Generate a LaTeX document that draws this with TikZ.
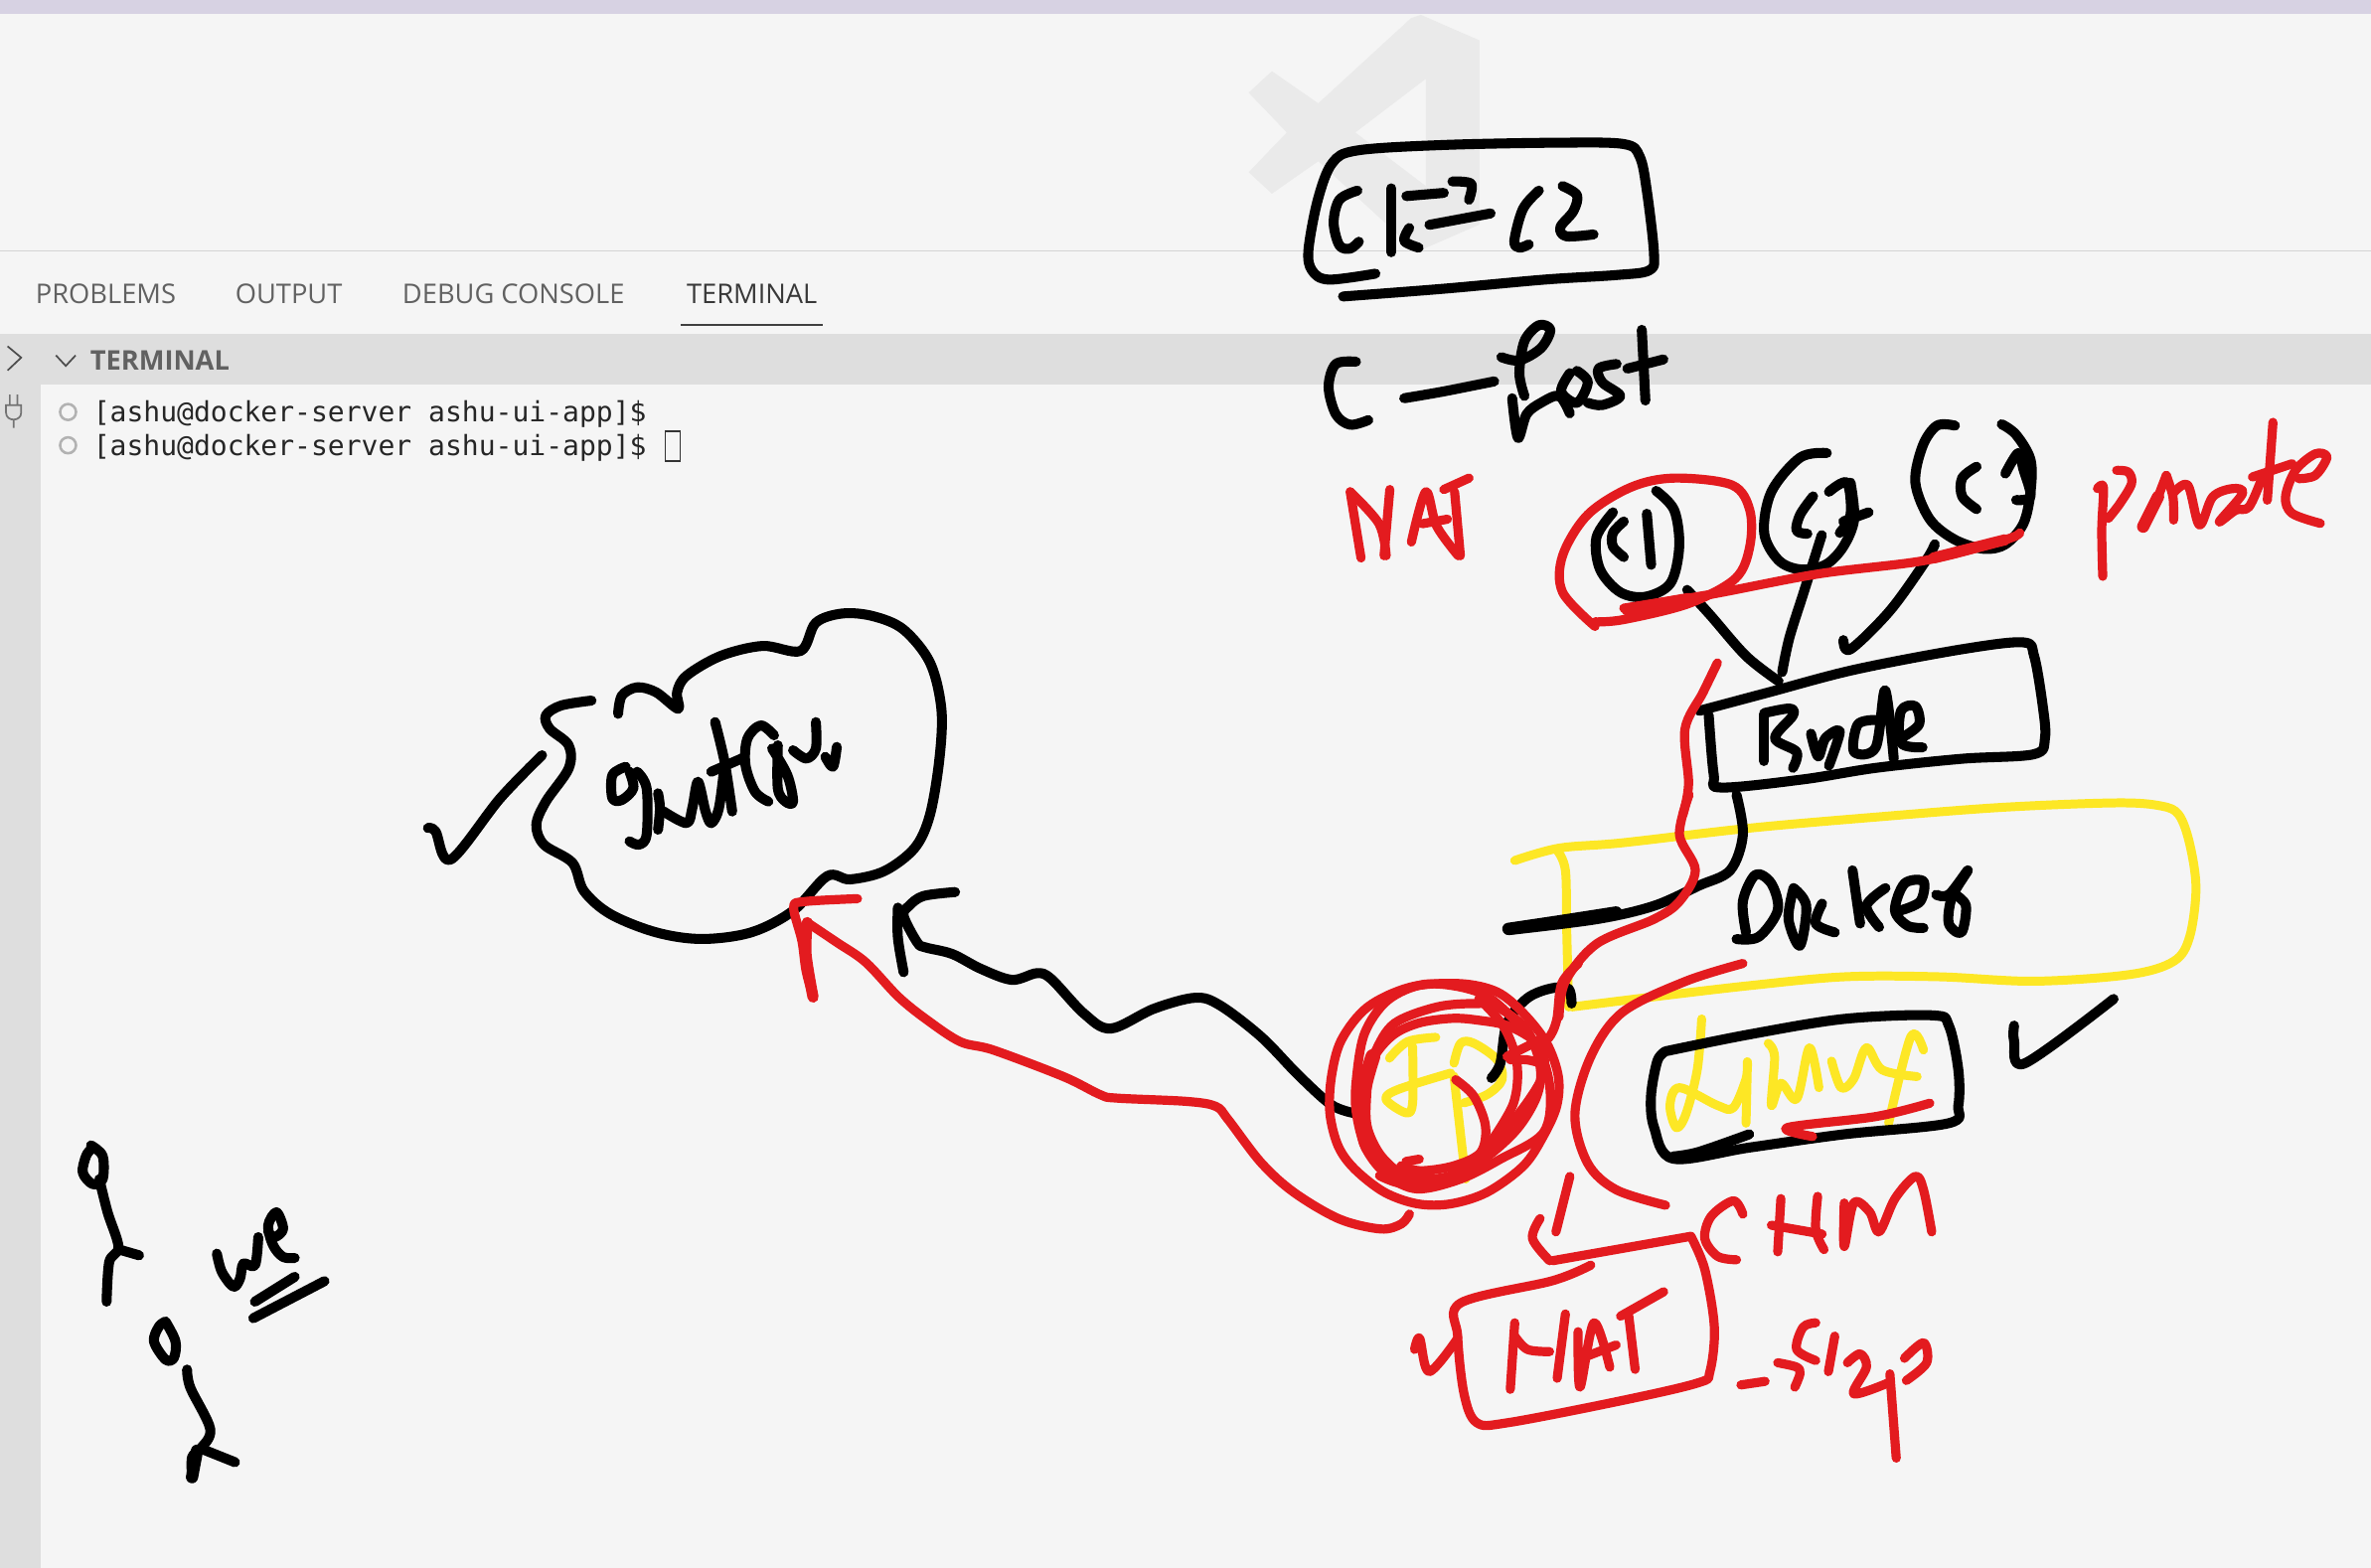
\documentclass[tikz,border=0pt]{standalone}
\usepackage{fontspec}
\setmainfont{Open Sans}
\newfontfamily\termfont{DejaVu Sans Mono}
\definecolor{fondo}{HTML}{F5F5F5}
\definecolor{banda}{HTML}{DEDEDE}
\definecolor{lilla}{HTML}{D7D2E3}
\definecolor{logo}{HTML}{EAEAEA}
\definecolor{rosso}{HTML}{E31B1F}
\definecolor{giallo}{HTML}{FDE725}
\begin{document}
\begin{tikzpicture}[x=.05cm,y=-.05cm,
 inkblack/.style={draw=black,line width=9.4pt,line cap=round,line join=round,smooth,tension=.55},
 inkred/.style={draw=rosso,line width=8.6pt,line cap=round,line join=round,smooth,tension=.55},
 inkyellow/.style={draw=giallo,line width=8.4pt,line cap=round,line join=round,smooth,tension=.55},
 tabtext/.style={anchor=west,inner sep=0pt,text=black!62,font=\fontsize{25.5}{28}\selectfont},
 termtext/.style={anchor=west,inner sep=0pt,text=black!85,font=\termfont\fontsize{26.2}{30}\selectfont},
 dotterm/.style={draw=black!30,line width=2.4pt,circle,minimum size=15pt,inner sep=0pt},
 zoomtop/.style={shift={(821.5,65.7)},xscale=.4761,yscale=.3018},
 zoomlow/.style={shift={(821.5,525.7)},xscale=.4191,yscale=.2934},
 zoomcloud/.style={shift={(262.9,381.2)},xscale=.2515,yscale=.219},
 zoomarrow/.style={shift={(512.6,565.2)},xscale=.2724,yscale=.2191},
 zoomusers/.style={shift={(39.4,742.6)},scale=.219},
 zoomlogo/.style={shift={(801.7,0)},scale=.219},
 zoomball/.style={shift={(867.4,637.4)},scale=.219},
 zoomword/.style={shift={(1373.5,262.9)},scale=.219}]

\useasboundingbox (0,0) rectangle (1568,1037);
\fill[fondo] (0,0) rectangle (1568,1037);
\fill[lilla] (0,0) rectangle (1568,9.5);

\begin{scope}[zoomlogo]
\fill[logo,even odd rule] (630,45)--(807,122)--(807,678)--(630,755)--(600,745)--(320,487)--(180,585)--(110,520)--(225,400)--(110,280)--(180,215)--(320,312)--(600,55)--cycle
 (645,238)--(432,400)--(645,562)--cycle;
\end{scope}

\draw[black!17,line width=1.6pt] (0,166)--(1568,166);
\fill[banda] (0,221) rectangle (1568,254);
\fill[banda] (0,221) rectangle (27,1037);

\node[tabtext] (tabproblems) at (23.5,194.5) {PROBLEMS};
\node[tabtext] (taboutput) at (155.5,194.5) {OUTPUT};
\node[tabtext] (tabdebug) at (266,194.5) {DEBUG CONSOLE};
\node[tabtext,text=black!78] (tabterminal) at (454,194.5) {TERMINAL};
\draw[black!75,line width=1.8pt] (450,215)--(544,215);
\node[tabtext,text=black!62,font=\bfseries\fontsize{25.5}{28}\selectfont] (headterminal) at (59.5,238.5) {TERMINAL};

\draw[black!70,line width=1.6pt] (5,229)--(14,236.5)--(5,245);
\draw[black!70,line width=1.6pt] (37,235)--(43.5,242)--(50,235);
\draw[black!55,line width=1.6pt] (4,268)--(4,273) .. controls (4,279) and (14,279) .. (14,273)--(14,268)--cycle (9,277)--(9,283) (6.5,268)--(6.5,261) (11.5,268)--(11.5,261);

\node[dotterm] (doto) at (45,272.5) {};
\node[dotterm] (dott) at (45,294.5) {};
\node[termtext] (lineo) at (61.5,274) {[ashu@docker-server ashu-ui-app]\$};
\node[termtext] (linet) at (61.5,296) {[ashu@docker-server ashu-ui-app]\$};
\node[draw=black!80,line width=1.5pt,minimum width=14pt,minimum height=28pt,inner sep=0pt] (cursore) at (445,295) {};

% yellow ink first, it stays under the rest
\begin{scope}[zoomlow]
\draw[inkyellow] plot coordinates {(430,148)(500,120)(600,108)(800,75)(1000,50)(1200,28)(1380,18)(1450,25)(1478,45)(1495,110)(1505,210)(1495,320)(1470,375)(1400,405)(1250,420)(1100,410)(950,410)(800,430)(650,455)(520,478)};
\draw[inkyellow] plot coordinates {(497,125)(510,170)(512,300)(515,478)};
\draw[inkyellow] plot coordinates {(725,505)(718,620)(700,720)(685,750)(675,700)(690,660)(750,700)(775,705)(795,640)(797,605)(795,740)};
\draw[inkyellow] plot coordinates {(830,560)(840,590)(835,700)(850,650)(875,685)(895,570)(910,660)};
\draw[inkyellow] plot coordinates {(930,600)(945,660)(965,640)(985,570)(1010,620)(1065,635)};
\draw[inkyellow] plot coordinates {(1075,575)(1055,545)(1020,740)};
\end{scope}

\begin{scope}[zoomball]
\draw[inkyellow] plot coordinates {(375,222)(290,235)(235,285)};
\draw[inkyellow] plot coordinates {(305,250)(305,420)(285,450)(225,410)(260,380)(420,330)};
\draw[inkyellow] plot coordinates {(430,300)(450,240)(490,240)(560,290)(575,350)(530,395)(460,420)};
\draw[inkyellow] plot coordinates {(430,340)(465,650)};
\draw[inkblack] plot coordinates {(543,345)(570,300)(590,180)(650,105)(720,75)(775,75)(785,120)};
\end{scope}

\begin{scope}[zoomtop]
\draw[inkblack] plot coordinates {(185,382)(120,395)(97,375)(92,330)(105,220)(125,140)(160,112)(280,100)(440,95)(530,98)(552,125)(562,200)(572,340)(565,375)(520,385)(420,395)(280,415)(140,432)};
\draw[inkblack] plot coordinates {(160,200)(135,220)(127,270)(135,320)(150,327)(162,312)};
\draw[inkblack] plot coordinates {(207,195)(207,335)};
\draw[inkblack] plot coordinates {(232,282)(225,310)(245,325)};
\draw[inkblack] plot coordinates {(228,212)(280,205)};
\draw[inkblack] plot coordinates {(292,180)(318,185)(315,220)};
\draw[inkblack] plot coordinates {(260,275)(345,250)};
\draw[inkblack] plot coordinates {(412,200)(390,240)(378,310)(385,325)(398,318)};
\draw[inkblack] plot coordinates {(445,190)(465,210)(460,245)(442,280)(450,300)(488,296)};
\draw[inkblack] plot coordinates {(158,575)(130,580)(120,630)(130,690)(150,713)(175,703)};
\draw[inkblack] plot coordinates {(225,655)(280,640)(350,618)};
\draw[inkblack] plot coordinates {(360,565)(385,572)(415,545)(428,505)(412,495)(392,530)(385,600)(392,650)};
\draw[inkblack] plot coordinates {(375,655)(383,742)(395,690)(415,665)(440,650)(455,688)};
\draw[inkblack] plot coordinates {(455,600)(443,640)(465,665)(480,620)(465,595)};
\draw[inkblack] plot coordinates {(520,580)(495,590)(500,620)(525,650)(500,670)(480,665)};
\draw[inkblack] plot coordinates {(555,505)(560,660)};
\draw[inkblack] plot coordinates {(535,590)(585,570)};
\draw[inkblack] plot coordinates {(575,858)(600,900)(607,980)(595,1060)(560,1090)(525,1080)(497,1030)(492,960)(515,905)};
\draw[inkblack] plot coordinates {(530,925)(515,950)(515,980)(530,1003)};
\draw[inkblack] plot coordinates {(562,908)(568,1020)};
\draw[inkblack] plot coordinates {(812,775)(775,785)(735,860)(725,950)(745,1010)(775,1030)(810,1020)(835,980)(850,920)(845,840)};
\draw[inkblack] plot coordinates {(793,870)(775,910)(770,945)(785,952)};
\draw[inkblack] plot coordinates {(815,860)(840,840)(845,910)(830,950)};
\draw[inkblack] plot coordinates {(835,925)(870,905)};
\draw[inkblack] plot coordinates {(805,955)(780,1080)(760,1180)(750,1255)};
\draw[inkblack] plot coordinates {(990,715)(965,715)(945,760)(935,840)(955,920)(990,965)(1030,985)(1060,975)(1085,930)(1095,860)(1095,790)(1075,735)(1055,712)};
\draw[inkblack] plot coordinates {(1020,805)(1000,830)(1000,870)(1020,898)};
\draw[inkblack] plot coordinates {(1060,820)(1078,775)(1085,810)(1095,870)(1075,878)};
\draw[inkblack] plot coordinates {(962,975)(950,1010)(900,1120)(845,1205)(835,1185)};
\draw[inkblack] plot coordinates {(618,1075)(650,1130)(700,1220)(745,1275)};
\draw[inkblack] plot coordinates {(635,1340)(730,1300)(850,1250)(1000,1205)(1085,1190)(1100,1220)(1112,1330)(1115,1400)(1100,1435)(1000,1445)(880,1465)(780,1490)(665,1508)(655,1480)(648,1350)};
\draw[inkblack] plot coordinates {(725,1348)(725,1450)};
\draw[inkblack] plot coordinates {(725,1345)(760,1335)(765,1350)(740,1400)(770,1430)(765,1465)};
\draw[inkblack] plot coordinates {(790,1390)(800,1440)(810,1400)(830,1385)(815,1460)};
\draw[inkblack] plot coordinates {(880,1360)(855,1370)(850,1430)(880,1420)(893,1295)(905,1445)};
\draw[inkblack] plot coordinates {(915,1400)(940,1370)(935,1330)(915,1340)(915,1410)(945,1420)};
\end{scope}

\begin{scope}[zoomlow]
\draw[inkblack] plot coordinates {(780,0)(790,90)(770,170)(720,205)(650,250)(560,280)(420,305)};
\draw[inkblack,line width=11.5pt] plot coordinates {(590,265)(500,285)(420,302)};
\draw[inkblack] plot coordinates {(795,310)(790,240)(810,180)(835,200)(845,260)(815,320)(780,325)};
\draw[inkblack] plot coordinates {(870,210)(862,280)(880,340)(890,250)(870,210)};
\draw[inkblack] plot coordinates {(915,245)(905,290)(935,310)};
\draw[inkblack] plot coordinates {(963,170)(975,290)};
\draw[inkblack] plot coordinates {(1015,210)(985,250)(1005,298)};
\draw[inkblack] plot coordinates {(1040,260)(1070,240)(1075,195)(1045,200)(1030,260)(1050,295)(1075,300)};
\draw[inkblack] plot coordinates {(1095,225)(1115,225)(1145,170)(1120,230)(1115,290)(1135,310)(1142,250)(1125,225)};
\draw[inkblack] plot coordinates {(668,578)(800,540)(950,505)(1090,497)(1115,520)(1130,620)(1130,700)(1115,740)(950,765)(800,795)(680,820)(650,750)(645,680)(655,600)(668,578)};
\draw[inkblack] plot coordinates {(680,815)(720,805)(800,765)};
\draw[inkblack] plot coordinates {(1218,520)(1218,555)(1235,605)(1375,460)};
\end{scope}

\begin{scope}[zoomcloud]
\draw[inkblack] plot coordinates {(510,375)(430,390)(390,420)(400,460)(450,510)(450,580)(390,680)(365,750)(385,810)(460,865)(490,950)(560,1020)(680,1075)(800,1095)(930,1075)(1040,1010)(1130,905)(1190,915)(1280,890)(1360,820)(1400,720)(1425,550)(1430,400)(1400,260)(1330,160)(1250,120)(1170,112)(1100,140)(1060,225)(960,210)(850,240)(760,300)(735,350)(738,400)(680,350)(630,335)(590,360)(580,415)};
\draw[inkblack] plot coordinates {(80,760)(100,770)(140,855)(270,670)(380,540)};
\draw[inkblack] plot coordinates {(600,575)(565,600)(565,670)(590,675)(620,640)(610,590)};
\draw[inkblack] plot coordinates {(630,590)(655,640)(655,780)(635,810)(610,800)};
\draw[inkblack] plot coordinates {(685,655)(690,700)(685,765)};
\draw[inkblack] plot coordinates {(700,710)(760,745)(775,700)(790,620)(810,710)(825,745)(845,700)(860,570)};
\draw[inkblack] plot coordinates {(835,440)(860,560)(880,710)};
\draw[inkblack] plot coordinates {(825,590)(905,550)};
\draw[inkblack] plot coordinates {(990,480)(955,450)(920,490)(915,570)(940,650)(975,680)};
\draw[inkblack] plot coordinates {(985,520)(1025,600)(1040,680)(1020,680)(1000,640)(1000,510)};
\draw[inkblack] plot coordinates {(1040,525)(1075,550)(1100,520)(1100,440)};
\draw[inkblack] plot coordinates {(1125,545)(1145,575)(1155,515)};
\end{scope}

\begin{scope}[zoomusers]
\draw[inkblack] plot coordinates {(95,68)(130,100)(130,170)(100,185)(70,150)(80,100)(95,80)};
\draw[inkblack] plot coordinates {(120,170)(145,270)(178,375)(150,420)(142,540)};
\draw[inkblack] plot coordinates {(178,382)(240,400)};
\draw[inkblack] plot coordinates {(320,600)(350,660)(345,710)(320,715)(285,660)(300,615)(320,600)};
\draw[inkblack] plot coordinates {(385,745)(395,800)(455,925)(425,985)(400,1010)(400,1070)};
\draw[inkblack,line width=11.5pt] plot coordinates {(415,990)(400,1070)};
\draw[inkblack] plot coordinates {(430,985)(530,1025)};
\draw[inkblack] plot coordinates {(475,395)(490,450)(525,495)(545,470)(555,425)(590,430)(600,345)};
\draw[inkblack] plot coordinates {(630,330)(650,345)(675,320)(655,270)(630,310)(645,370)(675,405)(710,408)};
\draw[inkblack] plot coordinates {(590,540)(710,465)};
\draw[inkblack] plot coordinates {(585,590)(800,478)};
\end{scope}

\begin{scope}[zoomarrow]
\draw[inkblack] plot coordinates {(437,113)(360,125)(325,155)(312,185)(345,265)(365,280)(430,300)(500,345)(575,378)(635,358)(670,375)(750,480)(815,525)(920,465)(1020,432)(1080,455)(1180,550)(1270,665)(1350,755)(1405,780)};
\draw[inkblack] plot coordinates {(298,160)(298,250)(312,355)};
\draw[inkred] plot coordinates {(200,133)(70,142)(45,160)(65,260)(75,350)(92,430)};
\draw[inkred,line width=10.5pt] plot coordinates {(78,205)(75,300)(92,430)};
\draw[inkred] plot coordinates {(78,205)(150,265)(220,325)(300,430)(370,500)(450,565)(530,590)(700,670)(790,725)(830,735)(1000,745)(1070,760)(1100,800)(1180,930)(1260,1020)(1370,1100)(1470,1130)(1520,1115)(1540,1085)};
\end{scope}

% red ink last
\begin{scope}[zoomtop]
\draw[inkred] plot coordinates {(150,860)(165,1005)};
\draw[inkred] plot coordinates {(150,860)(190,930)(200,1000)};
\draw[inkred] plot coordinates {(205,855)(197,1000)};
\draw[inkred] plot coordinates {(235,970)(255,860)(270,935)(300,1000)};
\draw[inkred] plot coordinates {(250,930)(285,920)};
\draw[inkred] plot coordinates {(280,855)(315,830)};
\draw[inkred] plot coordinates {(295,860)(303,1000)};
\draw[inkred] plot coordinates {(490,1155)(445,1080)(445,1000)(480,910)(540,850)(600,830)(680,845)(705,900)(705,980)(685,1050)(620,1105)(530,1140)(490,1145)};
\draw[inkred] plot coordinates {(530,1115)(650,1085)(800,1040)(950,1010)(1060,965)(1080,950)};
\draw[inkred,line width=11.5pt] plot coordinates {(535,1118)(620,1095)};
\draw[inkred,line width=10.5pt] plot coordinates {(960,1005)(1060,965)};
\draw[inkred] plot coordinates {(660,1235)(640,1300)(615,1380)(620,1500)(612,1568)};
\end{scope}

\begin{scope}[zoomword]
\draw[inkred] plot coordinates {(62,275)(80,272)(75,400)(78,540)};
\draw[inkred] plot coordinates {(95,365)(130,320)(165,260)(155,225)(120,220)};
\draw[inkred,line width=11.5pt] plot coordinates {(200,390)(220,350)(245,300)};
\draw[inkred] plot coordinates {(245,300)(270,235)};
\draw[inkred] plot coordinates {(270,235)(290,300)(292,370)};
\draw[inkred] plot coordinates {(290,290)(335,265)(370,385)(410,300)(470,275)(500,290)(430,375)(480,340)(520,330)(560,240)};
\draw[inkred] plot coordinates {(592,75)(575,310)};
\draw[inkred] plot coordinates {(530,240)(650,200)};
\draw[inkred] plot coordinates {(670,245)(720,235)(755,180)(720,170)(660,220)(630,300)(650,350)(735,380)};
\end{scope}

\begin{scope}[zoomball]
\draw[inkred] plot [smooth cycle] coordinates {(450,60)(300,70)(170,130)(90,230)(60,340)(55,450)(80,550)(130,620)(220,690)(320,725)(420,725)(530,690)(640,610)(700,520)(740,430)(745,340)(710,240)(640,150)(560,85)};
\draw[inkred] plot [smooth cycle] coordinates {(500,120)(380,130)(250,180)(190,270)(150,380)(150,480)(180,570)(240,630)(330,650)(420,640)(520,590)(620,500)(680,400)(690,310)(650,200)(560,130)};
\draw[inkred] plot [smooth cycle] coordinates {(420,165)(320,180)(240,220)(180,300)(165,420)(170,500)(210,580)(280,640)(370,660)(470,620)(560,530)(650,420)(700,330)(690,250)(600,190)(500,170)};
\draw[inkred] plot [smooth cycle] coordinates {(340,62)(230,110)(160,210)(135,350)(135,450)(165,560)(230,640)(320,680)(450,650)(570,590)(700,510)(720,380)(680,250)(560,120)(470,75)};
\draw[inkred,line width=14pt] plot coordinates {(185,280)(155,400)(165,540)(230,620)};
\draw[inkred] plot coordinates {(435,350)(490,400)(525,490)(510,570)(430,610)(330,625)(270,610)};
\draw[inkred] plot coordinates {(285,597)(325,590)};
\draw[inkred] plot coordinates {(505,105)(580,190)(620,300)(610,420)(540,540)};
\draw[inkred] plot coordinates {(590,280)(690,230)};
\draw[inkred] plot coordinates {(600,290)(650,290)(690,300)};
\draw[inkred] plot coordinates {(205,640)(280,665)(400,650)};
\draw[inkred] plot coordinates {(805,0)(755,60)(740,170)(715,225)(680,235)};
\end{scope}

\begin{scope}[zoomlow]
\draw[inkred] plot coordinates {(705,0)(690,90)(715,170)(690,240)(650,280)(560,335)(510,420)(500,500)};
\draw[inkred] plot coordinates {(790,380)(700,420)(600,490)(550,590)(525,720)(545,830)(590,890)(668,925)};
\draw[inkred] plot coordinates {(517,860)(495,985)};
\draw[inkred] plot coordinates {(470,955)(458,1000)(485,1050)};
\draw[inkred] plot coordinates {(1085,695)(1000,725)(860,750)(900,770)};
\draw[inkred] plot coordinates {(790,945)(775,915)(740,950)(730,1000)(750,1040)(780,1048)};
\draw[inkred] plot coordinates {(850,910)(845,1030)};
\draw[inkred] plot coordinates {(835,970)(915,990)};
\draw[inkred] plot coordinates {(908,905)(905,980)(918,1025)};
\draw[inkred] plot coordinates {(950,920)(950,1018)(965,920)(990,940)(1005,985)(1030,910)(1062,860)(1075,890)(1088,985)};
\draw[inkred] plot coordinates {(708,995)(490,1050)};
\draw[inkred] plot coordinates {(550,1060)(490,1095)(345,1145)(340,1220)(350,1350)(370,1415)(420,1415)(600,1365)(720,1325)(738,1300)(745,1200)(730,1070)(708,995)};
\draw[inkred] plot coordinates {(272,1250)(280,1225)(295,1300)(340,1225)};
\draw[inkred] plot coordinates {(430,1190)(423,1340)};
\draw[inkred] plot coordinates {(430,1220)(450,1250)(485,1255)};
\draw[inkred] plot coordinates {(510,1170)(497,1315)};
\draw[inkred] plot coordinates {(530,1210)(533,1335)(555,1190)(580,1290)};
\draw[inkred] plot coordinates {(535,1270)(590,1240)};
\draw[inkred] plot coordinates {(597,1175)(665,1120)};
\draw[inkred] plot coordinates {(610,1175)(620,1295)};
\draw[inkred] plot coordinates {(787,1330)(825,1322)};
\draw[inkred] plot coordinates {(845,1280)(875,1290)(880,1305)(872,1335)};
\draw[inkred] plot coordinates {(905,1190)(885,1200)(875,1250)(905,1275)};
\draw[inkred] plot coordinates {(935,1220)(925,1300)};
\draw[inkred] plot coordinates {(955,1280)(975,1260)(985,1290)(965,1350)(1020,1325)};
\draw[inkred] plot coordinates {(1022,1305)(1032,1495)};
\draw[inkred] plot coordinates {(1045,1270)(1075,1235)(1080,1280)(1048,1320)};
\end{scope}

\end{tikzpicture}
\end{document}
